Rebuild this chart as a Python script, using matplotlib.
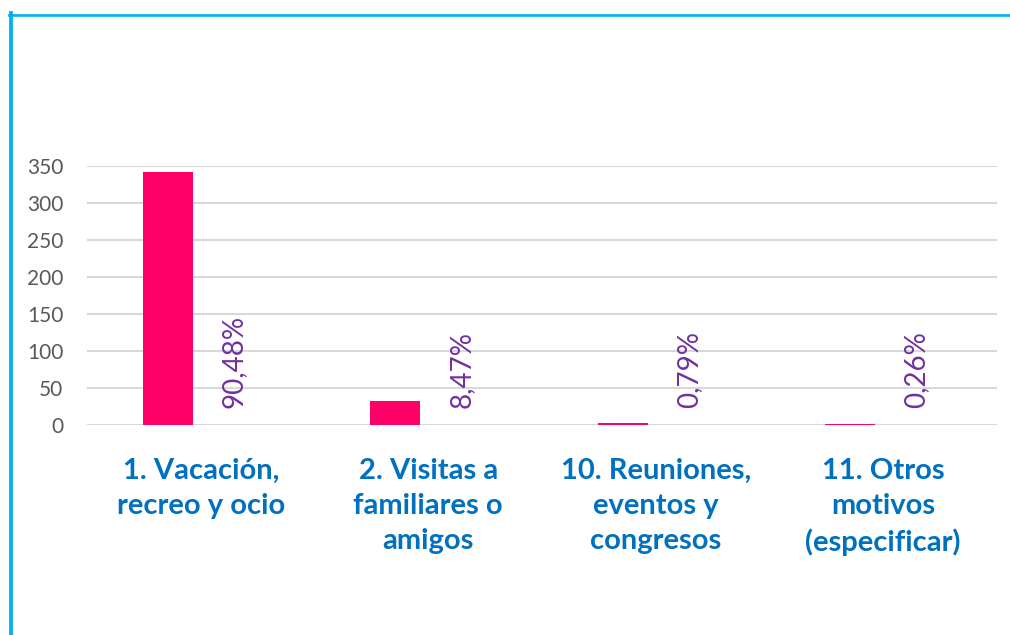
import matplotlib
matplotlib.use("Agg")
import matplotlib.pyplot as plt
from matplotlib.lines import Line2D

categories = ["1. Vacación,\nrecreo y ocio", "2. Visitas a\nfamiliares o\namigos",
              "10. Reuniones,\neventos y\ncongresos", "11. Otros\nmotivos\n(especificar)"]
counts = [342, 32, 3, 1]
percents = [90.48, 8.47, 0.79, 0.26]
yticks = [0, 50, 100, 150, 200, 250, 300, 350]

W, H = 1010, 635
fig = plt.figure(figsize=(W / 100, H / 100), dpi=100)
ax = fig.add_axes([87 / W, (H - 425) / H, (997 - 87) / W, (425 - 166) / H])

bw = 0.22
off = 0.145
x = list(range(len(categories)))
ax.bar([i - off for i in x], counts, width=bw, color="#FF0066", zorder=3)
ax.bar([i + off for i in x], [p / 100 for p in percents], width=bw, color="none",
       linewidth=0, zorder=3)

for i, p in zip(x, percents):
    ax.annotate(f"{p:.2f}".replace(".", ",") + "%", (i + off, p / 100),
                xytext=(0, 12), textcoords="offset points", rotation=90,
                ha="center", va="bottom", color="#7030A0", fontsize=20, family="Lato")

ax.set_xlim(-0.5, 3.5)
ax.set_ylim(0, 350)
ax.set_yticks(yticks)
ax.set_xticks(x)
ax.set_xticklabels(categories, fontsize=21, fontweight="bold", color="#0070C0",
                   family="Lato", linespacing=1.42)
ax.tick_params(axis="x", length=0, pad=24)
ax.tick_params(axis="y", length=0, pad=17, labelsize=15, labelcolor="#595959")
for lab in ax.get_yticklabels():
    lab.set_family("Lato")
ax.grid(axis="y", color="#D9D9D9", linewidth=1.5, zorder=0)
for s in ax.spines.values():
    s.set_visible(False)

# frame lines
fig.add_artist(Line2D([10.8 / W, 10.8 / W], [0, (H - 13) / H], color="#00B0F0", linewidth=2.7))
fig.add_artist(Line2D([9 / W, 1], [(H - 14.5) / H, (H - 14.5) / H], color="#00B0F0", linewidth=1.9))

fig.savefig("out.png", dpi=100)
